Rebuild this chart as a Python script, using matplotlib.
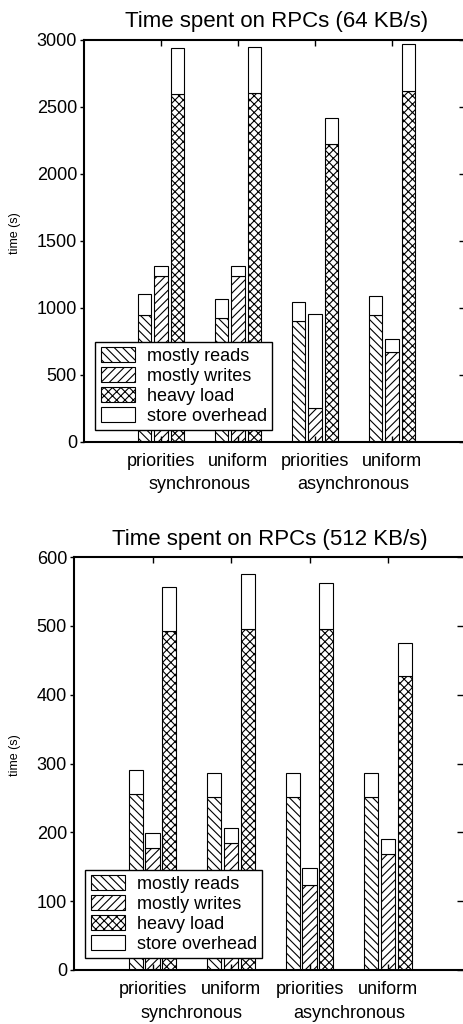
import numpy as np
import matplotlib.pyplot as plt
import matplotlib.transforms as mtransforms
from matplotlib.patches import Patch

plt.rcParams['font.family'] = ['Liberation Sans', 'DejaVu Sans']
plt.rcParams['hatch.linewidth'] = 0.8

configs = ['priorities', 'uniform', 'priorities', 'uniform']
modes = ['synchronous', 'asynchronous']
series = ['mostly reads', 'mostly writes', 'heavy load']
hatches = ['\\\\\\\\', '////', 'xxxx']

# 64 KB/s : hatched part and total height (top of the store overhead box)
slow_reads = [945, 925, 900, 945]
slow_reads_total = [1105, 1065, 1040, 1085]
slow_writes = [1240, 1240, 255, 670]
slow_writes_total = [1310, 1310, 950, 770]
slow_heavy = [2595, 2600, 2220, 2615]
slow_heavy_total = [2935, 2945, 2415, 2965]

# 512 KB/s
fast_reads = [256, 252, 251, 251]
fast_reads_total = [291, 286, 286, 286]
fast_writes = [177, 184, 124, 168]
fast_writes_total = [199, 207, 148, 191]
fast_heavy = [493, 495, 496, 427]
fast_heavy_total = [557, 576, 562, 475]

W, H = 464, 1024


def draw(ax, title, base, totals, ymax, ystep, ylab_x):
    x = np.arange(1, len(configs) + 1)
    offsets = [-0.215, 0.0, 0.215]
    for b, t, off, h in zip(base, totals, offsets, hatches):
        b = np.array(b)
        t = np.array(t)
        ax.bar(x + off, b, width=0.18, color='white', edgecolor='black',
               linewidth=0.8, hatch=h)
        ax.bar(x + off, t - b, bottom=b, width=0.18, color='white',
               edgecolor='black', linewidth=0.8)
    ax.set_xlim(0, 5)
    ax.set_ylim(0, ymax)
    yt = np.arange(0, ymax + 1, ystep)
    ax.set_yticks(yt)
    ax.set_xticks(x)
    ax.set_xticklabels(configs)
    ax.tick_params(axis='y', direction='out', length=3, width=1, labelsize=13, pad=2)
    ax.tick_params(axis='x', direction='in', length=4, width=1, labelsize=13, pad=8,
                   top=True)
    # inward ticks on the right side (spine sits just past the image edge)
    sec = ax.secondary_yaxis('right')
    sec.set_yticks(yt)
    sec.tick_params(direction='in', length=7, width=1, labelright=False)
    for s in list(ax.spines.values()) + list(sec.spines.values()):
        s.set_linewidth(1.5)
    trans = mtransforms.blended_transform_factory(ax.transData, ax.transAxes)
    for i, m in enumerate(modes):
        ax.annotate(m, xy=(1.5 + 2 * i, 0), xycoords=trans, xytext=(0, -31),
                    textcoords='offset points', ha='center', va='center',
                    fontsize=13)
    ax.set_title(title, fontsize=16, pad=9)
    ax.set_ylabel('time (s)', fontsize=9)
    ax.yaxis.set_label_coords(ylab_x, 0.52)
    handles = [Patch(facecolor='white', edgecolor='black', hatch=h, linewidth=0.8)
               for h in hatches]
    handles.append(Patch(facecolor='white', edgecolor='black', linewidth=0.8))
    leg = ax.legend(handles, series + ['store overhead'], loc='lower left',
                    bbox_to_anchor=(0.029, 0.029), fontsize=13, fancybox=False,
                    framealpha=1, edgecolor='black', borderpad=0.3,
                    labelspacing=0.12, handlelength=1.9, handleheight=0.9,
                    handletextpad=0.65, borderaxespad=0)
    leg.get_frame().set_linewidth(1.0)


fig = plt.figure(figsize=(W / 100, H / 100), dpi=100)
ax1 = fig.add_axes([84 / W, (H - 441.7) / H, (469 - 84) / W, 402 / H])
ax2 = fig.add_axes([74 / W, (H - 970) / H, (466.5 - 74) / W, 413 / H])

draw(ax1, 'Time spent on RPCs (64 KB/s)',
     [slow_reads, slow_writes, slow_heavy],
     [slow_reads_total, slow_writes_total, slow_heavy_total],
     3000, 500, -(84 - 21) / 385)
draw(ax2, 'Time spent on RPCs (512 KB/s)',
     [fast_reads, fast_writes, fast_heavy],
     [fast_reads_total, fast_writes_total, fast_heavy_total],
     600, 100, -(74 - 21) / 392.5)

fig.savefig('out.png', dpi=100)
